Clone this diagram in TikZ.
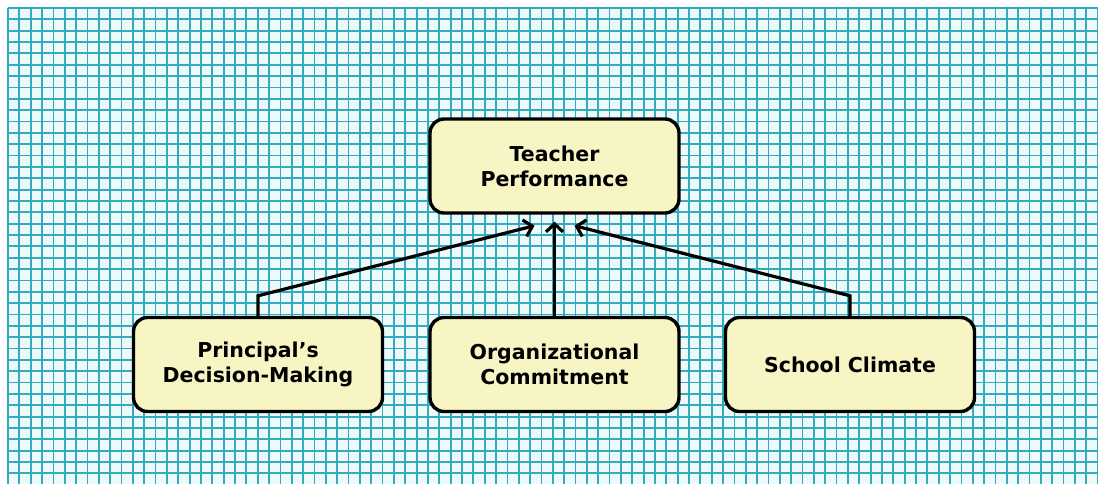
\documentclass[tikz,border=0pt]{standalone}
\usepackage{fontspec}
\setmainfont{DejaVu Sans}
\usetikzlibrary{arrows.meta}
\definecolor{gridline}{RGB}{52,172,192}
\definecolor{cellfill}{RGB}{238,250,250}
\definecolor{boxfill}{RGB}{248,245,196}

\begin{document}
\begin{tikzpicture}[x = 1pt, y = -1pt, font = {\fontsize{20.5pt}{25pt}\selectfont\bfseries},
	box/.style = {draw, line width = 3.4pt, rounded corners = 14pt, fill = boxfill, align = center, minimum width = 249pt, minimum height = 94pt, inner sep = 0pt},
	link/.style = {line width = 3.2pt, -{Straight Barb[length = 8pt, width = 17pt, line width = 3.2pt]}}]
\useasboundingbox (0,0) rectangle (1098,484);
\fill[white] (0,0) rectangle (1098,484);
\fill[cellfill] (8,8) rectangle (1098,484);
\foreach \i in {0, 1, ..., 96}
	\draw[gridline, line width = 1.8pt] ({8 + \i*11.35}, 8) -- ({8 + \i*11.35}, 484);
\foreach \j in {0, 1, ..., 42}
	\draw[gridline, line width = 1.8pt] (8, {8 + \j*11.35}) -- (1098, {8 + \j*11.35});

\node[box] (TP) at (554.5, 166) {Teacher\\Performance};
\node[box] (PD) at (258, 364.5) {Principal’s\\Decision-Making};
\node[box] (OC) at (554.5, 364.5) {Organizational\\Commitment};
\node[box] (SC) at (850, 364.5) {School Climate};

\draw[link] (PD.north) -- ++(0pt, 20pt) -- ([xshift = -20pt, yshift = -11pt]TP.south);
\draw[link] (OC.north) -- ([yshift = -7pt]TP.south);
\draw[link] (SC.north) -- ++(0pt, 20pt) -- ([xshift = 20pt, yshift = -11pt]TP.south);
\end{tikzpicture}
\end{document}
